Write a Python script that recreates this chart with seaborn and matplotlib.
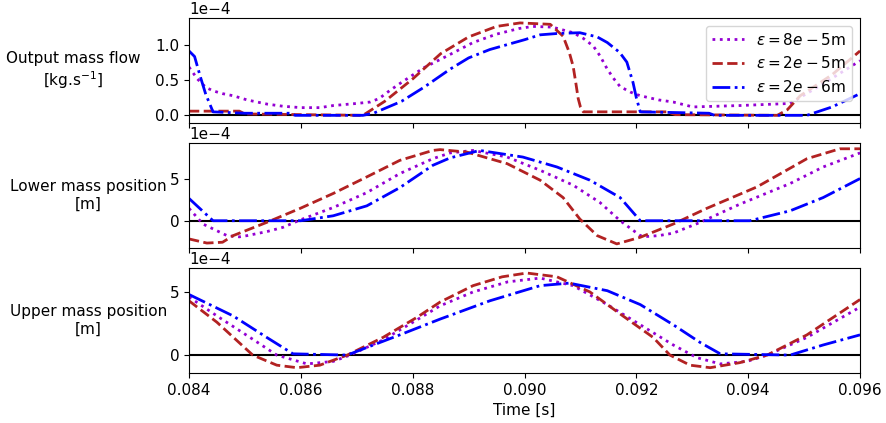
import numpy as np
import pandas as pd
import matplotlib
matplotlib.use("Agg")
import matplotlib.pyplot as plt
import seaborn as sns

plt.rcParams['font.family'] = ['DejaVu Sans']

series_labels = [r"$\varepsilon = 8e-5$m", r"$\varepsilon = 2e-5$m", r"$\varepsilon = 2e-6$m"]
series_colors = ["darkviolet", "firebrick", "blue"]
series_styles = [":", "--", "-."]

panel_labels = ["Output mass flow\n[kg.s$^{-1}$]", "Lower mass position\n[m]", "Upper mass position\n[m]"]

# ---------- Panel 1: output mass flow (x 1e-4 kg/s) ----------
flow_t_8e5 = [0.08400, 0.08415, 0.08430, 0.08443, 0.08460, 0.08479, 0.08504, 0.08540, 0.08568, 0.08600,
              0.08634, 0.08658, 0.08700, 0.08724, 0.08740, 0.08760, 0.08780, 0.08820, 0.08867, 0.08908,
              0.08950, 0.08990, 0.09015, 0.09050, 0.09087, 0.09105, 0.09123, 0.09135, 0.09148, 0.09160,
              0.09171, 0.09190, 0.09207, 0.09240, 0.09266, 0.09301, 0.09385, 0.09475, 0.09540, 0.09600]
flow_v_8e5 = [0.69, 0.52, 0.40, 0.35, 0.31, 0.28, 0.22, 0.16, 0.13, 0.11,
              0.11, 0.14, 0.17, 0.19, 0.24, 0.36, 0.47, 0.68, 0.87, 1.04,
              1.16, 1.24, 1.27, 1.26, 1.18, 1.10, 0.99, 0.85, 0.66, 0.52,
              0.41, 0.33, 0.28, 0.22, 0.19, 0.12, 0.14, 0.17, 0.48, 0.78]

flow_t_2e5 = [0.08400, 0.08490, 0.08500, 0.08600, 0.08711, 0.08750, 0.08800, 0.08850, 0.08900, 0.08950,
              0.08992, 0.09046, 0.09069, 0.09080, 0.09087, 0.09092, 0.09096, 0.09100, 0.09105, 0.09200,
              0.09255, 0.09270, 0.09452, 0.09470, 0.09493, 0.09550, 0.09600]
flow_v_2e5 = [0.06, 0.06, 0.02, 0.01, 0.00, 0.20, 0.52, 0.88, 1.12, 1.27,
              1.32, 1.30, 1.13, 0.90, 0.70, 0.45, 0.24, 0.12, 0.05, 0.05,
              0.05, 0.01, 0.00, 0.08, 0.28, 0.58, 0.92]

flow_t_2e6 = [0.08400, 0.08410, 0.08420, 0.08430, 0.08443, 0.08500, 0.08580, 0.08590, 0.08711, 0.08730,
              0.08780, 0.08820, 0.08867, 0.08900, 0.08938, 0.09000, 0.09028, 0.09060, 0.09099, 0.09130,
              0.09148, 0.09170, 0.09183, 0.09194, 0.09200, 0.09207, 0.09330, 0.09340, 0.09505, 0.09550,
              0.09600]
flow_v_2e6 = [0.92, 0.84, 0.56, 0.30, 0.05, 0.03, 0.03, 0.00, 0.00, 0.03,
              0.20, 0.40, 0.66, 0.82, 0.94, 1.08, 1.15, 1.17, 1.18, 1.12,
              1.04, 0.90, 0.76, 0.47, 0.25, 0.05, 0.03, 0.00, 0.00, 0.12,
              0.31]

# ---------- Panel 2: lower mass position (x 1e-4 m) ----------
low_t_8e5 = [0.08400, 0.08425, 0.08468, 0.08490, 0.08504, 0.08540, 0.08568, 0.08599, 0.08658, 0.08718,
             0.08777, 0.08836, 0.08867, 0.08908, 0.08969, 0.09028, 0.09087, 0.09135, 0.09171, 0.09207,
             0.09220, 0.09240, 0.09266, 0.09314, 0.09385, 0.09475, 0.09534, 0.09600]
low_v_8e5 = [1.5, -0.4, -1.8, -1.95, -1.8, -1.3, -0.8, 0.1, 1.6, 3.4,
             5.7, 7.5, 8.2, 8.5, 7.7, 6.1, 4.3, 2.2, 0.0, -1.8,
             -1.9, -1.8, -1.5, -0.2, 2.0, 4.5, 6.5, 8.2]

low_t_2e5 = [0.08400, 0.08432, 0.08460, 0.08479, 0.08539, 0.08599, 0.08658, 0.08718, 0.08777, 0.08836,
             0.08849, 0.08897, 0.08969, 0.09028, 0.09069, 0.09099, 0.09130, 0.09165, 0.09207, 0.09266,
             0.09326, 0.09416, 0.09505, 0.09564, 0.09600]
low_v_2e5 = [-2.2, -2.7, -2.6, -1.8, -0.2, 1.5, 3.3, 5.3, 7.3, 8.5,
             8.6, 8.3, 6.9, 4.9, 2.8, 0.2, -1.8, -2.8, -2.0, -0.4,
             1.5, 4.1, 7.5, 8.7, 8.7]

low_t_2e6 = [0.08400, 0.08443, 0.08600, 0.08658, 0.08718, 0.08777, 0.08836, 0.08867, 0.08920, 0.08997,
             0.09058, 0.09117, 0.09171, 0.09207, 0.09403, 0.09475, 0.09534, 0.09600]
low_v_2e6 = [2.7, 0.0, 0.0, 0.6, 1.8, 4.0, 6.7, 7.6, 8.5, 7.7,
             6.5, 4.9, 2.8, 0.0, 0.0, 1.2, 2.8, 5.1]

# ---------- Panel 3: upper mass position (x 1e-4 m) ----------
up_t_8e5 = [0.08400, 0.08450, 0.08509, 0.08557, 0.08611, 0.08658, 0.08688, 0.08747, 0.08808, 0.08849,
            0.08908, 0.08970, 0.09028, 0.09087, 0.09148, 0.09207, 0.09266, 0.09308, 0.09350, 0.09398,
            0.09434, 0.09505, 0.09600]
up_v_8e5 = [4.6, 3.1, 1.4, 0.0, -0.7, -0.5, 0.0, 1.2, 2.8, 3.9,
            5.0, 5.8, 6.1, 5.5, 4.0, 2.4, 0.8, -0.2, -0.7, -0.5,
            0.0, 1.4, 3.8]

up_t_2e5 = [0.08400, 0.08450, 0.08514, 0.08557, 0.08593, 0.08634, 0.08683, 0.08747, 0.08808, 0.08849,
            0.08908, 0.08960, 0.09004, 0.09058, 0.09117, 0.09176, 0.09230, 0.09260, 0.09296, 0.09332,
            0.09385, 0.09434, 0.09505, 0.09600]
up_v_2e5 = [4.3, 2.6, 0.0, -0.8, -1.0, -0.8, 0.0, 1.4, 3.0, 4.2,
            5.5, 6.2, 6.5, 6.2, 5.0, 3.1, 1.4, 0.0, -0.8, -1.0,
            -0.6, 0.0, 1.6, 4.4]

up_t_2e6 = [0.08400, 0.08479, 0.08539, 0.08586, 0.08683, 0.08718, 0.08777, 0.08849, 0.08938, 0.09028,
            0.09080, 0.09148, 0.09207, 0.09266, 0.09314, 0.09350, 0.09475, 0.09534, 0.09600]
up_v_2e6 = [4.8, 3.1, 1.4, 0.1, 0.0, 0.6, 1.6, 2.85, 4.3, 5.5,
            5.7, 5.1, 4.0, 2.4, 1.0, 0.1, 0.0, 0.8, 1.6]

x_ticks = [0.084, 0.086, 0.088, 0.090, 0.092, 0.094, 0.096]
y_ticks = [[0.0, 0.5e-4, 1.0e-4], [0.0, 5e-4], [0.0, 5e-4]]
y_limits = [(-0.11e-4, 1.39e-4), (-3.3e-4, 9.4e-4), (-1.42e-4, 6.9e-4)]

panels = [
    [(flow_t_8e5, flow_v_8e5), (flow_t_2e5, flow_v_2e5), (flow_t_2e6, flow_v_2e6)],
    [(low_t_8e5, low_v_8e5), (low_t_2e5, low_v_2e5), (low_t_2e6, low_v_2e6)],
    [(up_t_8e5, up_v_8e5), (up_t_2e5, up_v_2e5), (up_t_2e6, up_v_2e6)],
]

rows = []
for p, pan in enumerate(panels):
    for s, (tt, vv) in enumerate(pan):
        for a, b in zip(tt, vv):
            rows.append({"panel": p, "series": series_labels[s], "t": a, "v": b * 1e-4})
df = pd.DataFrame(rows)

fig, axes = plt.subplots(3, 1, figsize=(8.86, 4.23), dpi=100, sharex=True)
fig.subplots_adjust(left=0.2133, right=0.9707, top=0.9574, bottom=0.1182, hspace=0.19)

label_x = [-0.173, -0.150, -0.150]
for p, ax in enumerate(axes):
    for s, lab in enumerate(series_labels):
        sub = df[(df.panel == p) & (df.series == lab)]
        sns.lineplot(data=sub, x="t", y="v", ax=ax, color=series_colors[s],
                     linestyle=series_styles[s], linewidth=2, label=lab if p == 0 else None,
                     sort=False, estimator=None, legend=(p == 0))
    ax.axhline(0, color="black", linewidth=1.5, zorder=1)
    ax.set_xlim(0.084, 0.096)
    ax.set_ylim(*y_limits[p])
    ax.set_yticks(y_ticks[p])
    ax.set_xticks(x_ticks)
    ax.ticklabel_format(axis="y", style="sci", scilimits=(0, 0))
    ax.set_ylabel(panel_labels[p], rotation=0, ha="center", va="center", fontsize=11)
    ax.yaxis.set_label_coords(label_x[p], 0.5)
    ax.set_xlabel("")
    ax.tick_params(labelsize=11)
    ax.yaxis.get_offset_text().set_fontsize(11)

axes[0].legend(loc="upper right", fontsize=11, handlelength=2.1)
axes[2].set_xlabel("Time [s]", fontsize=11)
axes[2].xaxis.set_major_formatter(matplotlib.ticker.FormatStrFormatter("%.3f"))

fig.savefig("out.png", dpi=100)
